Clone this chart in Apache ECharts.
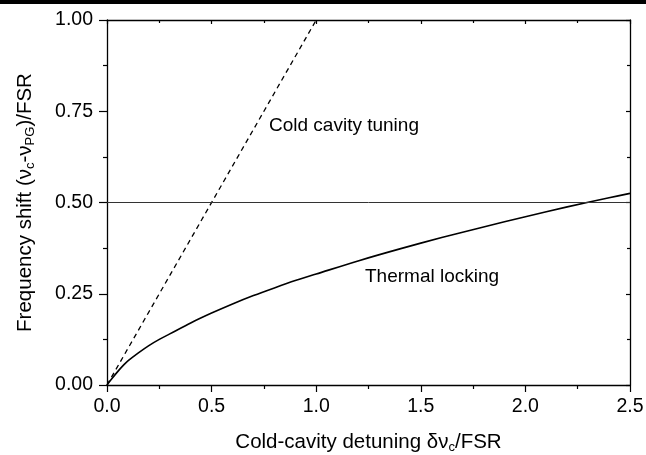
<!DOCTYPE html>
<html>
<head>
<meta charset="utf-8">
<script src="https://cdn.jsdelivr.net/npm/echarts@6/dist/echarts.min.js"></script>
<style>html,body{margin:0;padding:0;background:#fff}#c{width:646px;height:455px}</style>
</head>
<body>
<div id="c"></div>
<script>
// Thermal locking curve
var lockX = [0, 0.02, 0.05, 0.08, 0.1, 0.15, 0.2, 0.25, 0.3, 0.4, 0.5, 0.6, 0.7, 0.8, 0.9, 1.0, 1.2, 1.4, 1.6, 1.8, 2.0, 2.2, 2.4, 2.5];
var lockY = [0, 0.015, 0.036, 0.055, 0.066, 0.088, 0.108, 0.125, 0.14, 0.17, 0.197, 0.222, 0.245, 0.266, 0.286, 0.304, 0.34, 0.373, 0.404, 0.433, 0.461, 0.488, 0.513, 0.525];
// Cold cavity tuning (dashed)
var coldX = [0, 1.0];
var coldY = [0, 1.0];
// Reference level
var refLevel = 0.5;
var xTicks = [0, 0.5, 1.0, 1.5, 2.0, 2.5];
var yTicks = [0, 0.25, 0.5, 0.75, 1.0];

var FONT = 'Liberation Sans, Arial, sans-serif';
function zip(a, b) { return a.map(function (v, i) { return [v, b[i]]; }); }

var chart = echarts.init(document.getElementById('c'), null, {renderer: 'canvas'});
var axisLine = {show: true, onZero: false, lineStyle: {color: '#000', width: 1.3}};
var richName = {
  a: {fontSize: 20.5, fontFamily: FONT, color: '#000', lineHeight: 22, verticalAlign: 'top'},
  s: {fontSize: 13, fontFamily: FONT, color: '#000', lineHeight: 15, padding: [15, 0, 0, 0], verticalAlign: 'bottom'}
};
var opt = {
  animation: false,
  backgroundColor: '#fff',
  grid: {left: 107, right: 16, top: 20, bottom: 70, containLabel: false, outerBoundsMode: 'none'},
  xAxis: [{
    type: 'value', min: xTicks[0], max: xTicks[xTicks.length - 1], interval: 0.5,
    position: 'bottom',
    axisLine: axisLine,
    axisTick: {show: true, inside: false, length: 7, lineStyle: {color: '#000', width: 1.2}},
    minorTick: {show: true, splitNumber: 2, length: 4, lineStyle: {color: '#000', width: 1.2}},
    splitLine: {show: false},
    axisLabel: {margin: 12, color: '#000', fontSize: 19.5, fontFamily: FONT, formatter: function (v) { return v.toFixed(1); }},
    name: '{a|Cold-cavity detuning δν}{s|c}{a|/FSR}',
    nameLocation: 'middle', nameGap: 47,
    nameTextStyle: {color: '#000', fontFamily: FONT, fontSize: 20.5, rich: richName}
  }, {
    type: 'value', min: 0, max: 2.5, interval: 0.5, position: 'top',
    axisLine: axisLine,
    axisTick: {show: true, inside: true, length: 4, lineStyle: {color: '#000', width: 1.2}},
    minorTick: {show: true, splitNumber: 2, length: 3, lineStyle: {color: '#000', width: 1.2}},
    axisLabel: {show: false}, splitLine: {show: false}
  }],
  yAxis: [{
    type: 'value', min: yTicks[0], max: yTicks[yTicks.length - 1], interval: 0.25,
    position: 'left',
    axisLine: axisLine,
    axisTick: {show: true, inside: false, length: 8, lineStyle: {color: '#000', width: 1.2}},
    minorTick: {show: true, splitNumber: 2, length: 4, lineStyle: {color: '#000', width: 1.2}},
    splitLine: {show: false},
    axisLabel: {margin: 14, color: '#000', fontSize: 19.5, fontFamily: FONT, formatter: function (v) { return v.toFixed(2); }},
    name: '{a|Frequency shift (ν}{s|c}{a|-ν}{s|PG}{a|)/FSR}',
    nameLocation: 'middle', nameGap: 70, nameRotate: 90,
    nameTextStyle: {color: '#000', fontFamily: FONT, fontSize: 20.5, rich: richName}
  }, {
    type: 'value', min: 0, max: 1, interval: 0.25, position: 'right',
    axisLine: axisLine,
    axisTick: {show: true, inside: true, length: 4, lineStyle: {color: '#000', width: 1.2}},
    minorTick: {show: true, splitNumber: 2, length: 3, lineStyle: {color: '#000', width: 1.2}},
    axisLabel: {show: false}, splitLine: {show: false}
  }],
  series: [{
    name: 'Thermal locking', type: 'line', data: zip(lockX, lockY), smooth: 0.3,
    showSymbol: false, symbol: 'none',
    lineStyle: {color: '#000', width: 1.6},
    markLine: {silent: true, symbol: 'none', label: {show: false},
      lineStyle: {color: '#333', width: 1, type: 'solid'},
      data: [{yAxis: refLevel}]}
  }, {
    name: 'Cold cavity tuning', type: 'line', data: zip(coldX, coldY),
    showSymbol: false, symbol: 'none',
    lineStyle: {color: '#000', width: 1.3, type: [5, 4]}
  }],
  graphic: [
    {type: 'rect', shape: {x: 0, y: 0, width: 646, height: 4}, style: {fill: '#000'}},
    {type: 'text', left: 269, top: 116, style: {text: 'Cold cavity tuning', fontSize: 19, fontFamily: FONT, fill: '#000'}},
    {type: 'text', left: 365, top: 267, style: {text: 'Thermal locking', fontSize: 19, fontFamily: FONT, fill: '#000'}}
  ]
};
chart.setOption(opt);
</script>
</body>
</html>
